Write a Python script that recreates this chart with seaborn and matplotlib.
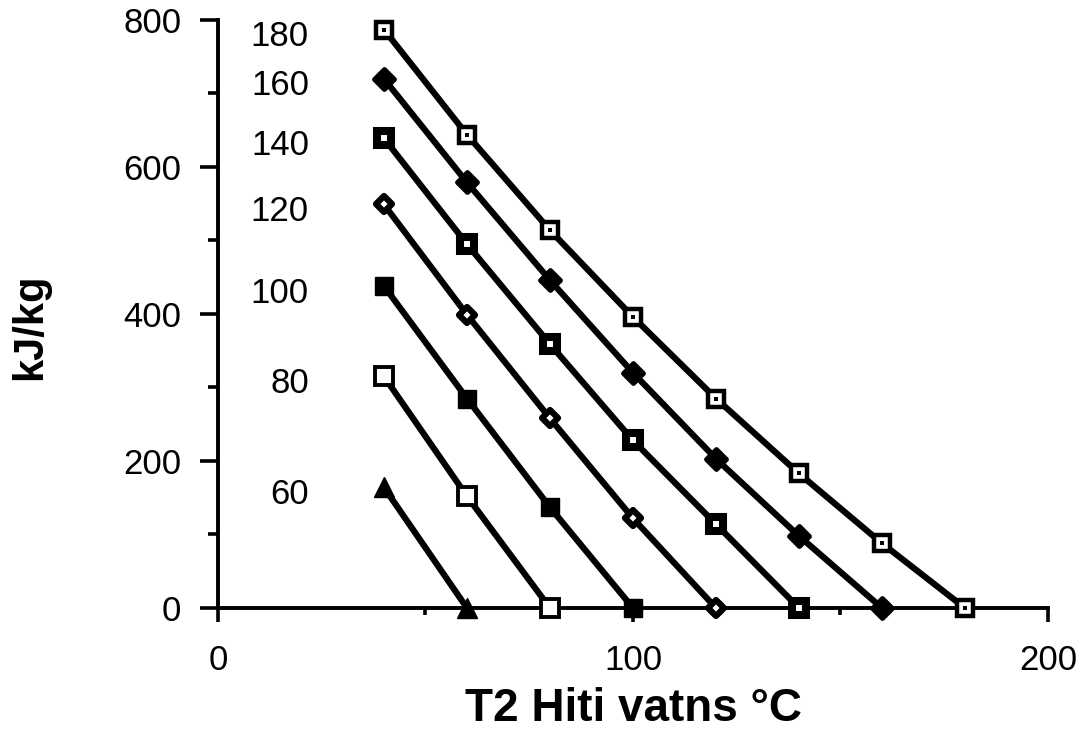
import matplotlib
matplotlib.use('Agg')
import matplotlib.pyplot as plt
from matplotlib.markers import MarkerStyle
import seaborn as sns
import pandas as pd
from matplotlib.ticker import MultipleLocator, FixedLocator

# ---- data ----
t2 = [40, 60, 80, 100, 120, 140, 160, 180]
s180 = [787, 644, 514, 396, 285, 183, 88, 0]
s160 = [720, 579, 446, 320, 203, 98, 0]
s140 = [639, 495, 359, 228, 114, 0]
s120 = [549, 399, 258, 122, 0]
s100 = [438, 285, 137, 0]
s80 = [315, 152, 0]
s60 = [164, 0]
series_names = ['180', '160', '140', '120', '100', '80', '60']
series_values = [s180, s160, s140, s120, s100, s80, s60]
x_ticks = [0, 100, 200]
y_ticks = [0, 200, 400, 600, 800]
x_label = 'T2 Hiti vatns °C'
y_label = 'kJ/kg'

# ---- styles ----
marker_styles = {
    '180': dict(marker='s', markersize=12.0, markerfacecolor='white', markeredgecolor='black', markeredgewidth=3.2),
    '160': dict(marker=MarkerStyle('D', joinstyle='round'), markersize=10.5, markerfacecolor='black', markeredgecolor='black', markeredgewidth=3.5),
    '140': dict(marker='s', markersize=10.0, markerfacecolor='white', markeredgecolor='black', markeredgewidth=5.8),
    '120': dict(marker=MarkerStyle('D', joinstyle='round'), markersize=8.0, markerfacecolor='white', markeredgecolor='black', markeredgewidth=4.5),
    '100': dict(marker='s', markersize=13.5, markerfacecolor='black', markeredgecolor='black', markeredgewidth=1.0),
    '80': dict(marker='s', markersize=12.5, markerfacecolor='white', markeredgecolor='black', markeredgewidth=2.8),
    '60': dict(marker='^', markersize=14.0, markerfacecolor='black', markeredgecolor='black', markeredgewidth=1.0),
}
dot_series = '180'

sns.set_theme(style='ticks')
plt.rcParams['font.family'] = ['Liberation Sans', 'DejaVu Sans']

fig = plt.figure(figsize=(10.86, 7.32), dpi=100)
ax = fig.add_axes([0.2007, 0.1694, 0.7643, 0.8033])

for name, vals in zip(series_names, series_values):
    xs = t2[:len(vals)]
    df = pd.DataFrame({'T2': xs, 'kJ': vals})
    sns.lineplot(data=df, x='T2', y='kJ', ax=ax, color='black', linewidth=4.5,
                 clip_on=False, zorder=3, **marker_styles[name])
    if name == dot_series:
        sns.scatterplot(data=df, x='T2', y='kJ', ax=ax, marker='s', s=12,
                        color='black', linewidth=0, clip_on=False, zorder=5)
    ax.annotate(name, xy=(xs[0], vals[0]), xytext=(-54, -5),
                textcoords='offset points', ha='right', va='center',
                fontsize=25, color='black')

ax.set_xlim(0, 200)
ax.set_ylim(0, 800)
ax.xaxis.set_major_locator(FixedLocator(x_ticks))
ax.yaxis.set_major_locator(FixedLocator(y_ticks))
ax.xaxis.set_minor_locator(MultipleLocator(50))
ax.yaxis.set_minor_locator(MultipleLocator(100))
ax.set_xticklabels([str(v) for v in x_ticks])
ax.set_yticklabels([str(v) for v in y_ticks])

ax.tick_params(axis='both', which='major', labelsize=25, width=2.6, color='black', labelcolor='black')
ax.tick_params(axis='y', which='major', length=13, pad=13.5)
ax.tick_params(axis='y', which='minor', length=7, width=2.6, color='black')
ax.tick_params(axis='x', which='major', length=10, pad=16)
ax.tick_params(axis='x', which='minor', length=5, width=2.6, color='black')

sns.despine(ax=ax)
for side in ['left', 'bottom']:
    ax.spines[side].set_linewidth(2.8)
    ax.spines[side].set_color('black')
ax.grid(False)

ax.set_xlabel(x_label, fontsize=33, fontweight='bold', color='black')
ax.set_ylabel(y_label, fontsize=30, fontweight='bold', color='black')
ax.xaxis.set_label_coords(0.5, -0.135)
ax.xaxis.label.set_va('top')
ax.yaxis.set_label_coords(-0.202, 0.478)

fig.savefig('out.png', dpi=100, facecolor='white')
